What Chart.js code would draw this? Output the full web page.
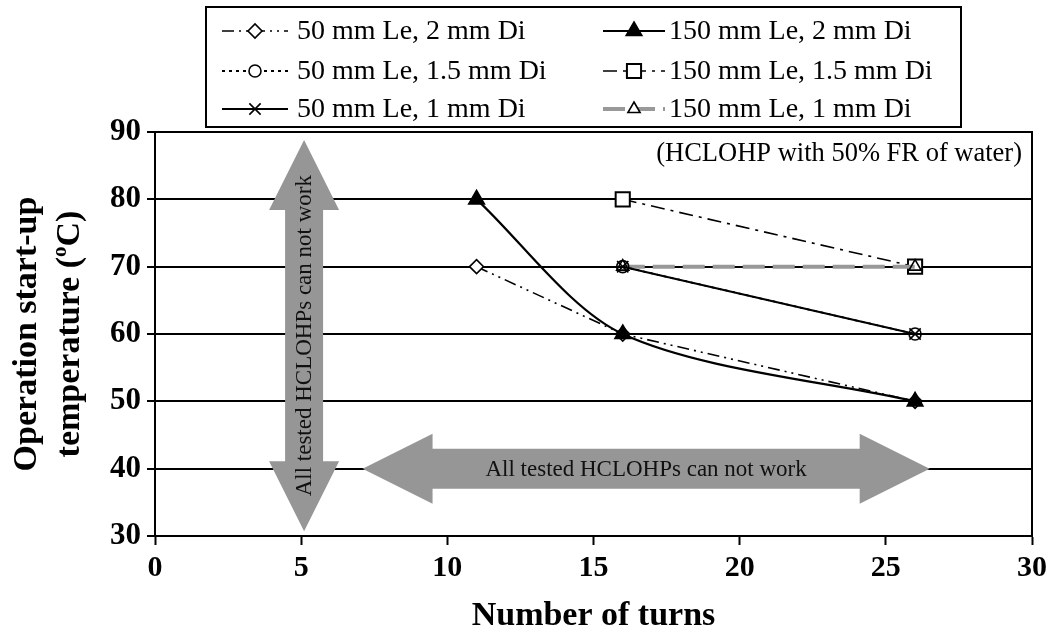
<!DOCTYPE html>
<html><head><meta charset="utf-8">
<script src="https://cdn.jsdelivr.net/npm/chart.js@4/dist/chart.umd.min.js"></script>
<style>html,body{margin:0;padding:0;background:#fff;}</style>
</head><body>
<canvas id="c" width="1053" height="638"></canvas>
<script>
// ---- data ----
const seriesLabels = ["50 mm Le, 2 mm Di","50 mm Le, 1.5 mm Di","50 mm Le, 1 mm Di","150 mm Le, 2 mm Di","150 mm Le, 1.5 mm Di","150 mm Le, 1 mm Di"];
const turns_50_2 = [11, 16, 26];   const temp_50_2 = [70, 60, 50];
const turns_50_15 = [16, 26];      const temp_50_15 = [70, 60];
const turns_50_1 = [16, 26];       const temp_50_1 = [70, 60];
const turns_150_2 = [11, 16, 26];  const temp_150_2 = [80, 60, 50];
const turns_150_15 = [16, 26];     const temp_150_15 = [80, 70];
const turns_150_1 = [16, 26];      const temp_150_1 = [70, 70];
const xTicks = [0, 5, 10, 15, 20, 25, 30];
const yTicks = [30, 40, 50, 60, 70, 80, 90];
const xTitle = "Number of turns";
const yTitle = ["Operation start-up", "temperature (", "o", "C)"];
const noteText = "(HCLOHP with 50% FR of water)";
const arrowText = "All tested HCLOHPs can not work";

const pts = (xs, ys) => xs.map((x, i) => ({x: x, y: ys[i]}));
const SERIF = "'Liberation Serif', 'Times New Roman', serif";

const datasets = [
  {label: seriesLabels[0], data: pts(turns_50_2, temp_50_2), borderColor:'#000', borderWidth:1.6, borderDash:[12,5,2,5,2,5],
   pointStyle:'rectRot', pointRadius:7, pointBackgroundColor:'#fff', pointBorderColor:'#000', pointBorderWidth:1.6, order: 2},
  {label: seriesLabels[1], data: pts(turns_50_15, temp_50_15), borderColor:'#000', borderWidth:1.8, borderDash:[3,4],
   pointStyle:'circle', pointRadius:6, pointBackgroundColor:'rgba(255,255,255,0)', pointBorderColor:'#000', pointBorderWidth:1.6, order: 1},
  {label: seriesLabels[2], data: pts(turns_50_1, temp_50_1), borderColor:'#000', borderWidth:2, borderDash:[],
   pointStyle:'crossRot', pointRadius:8, pointBackgroundColor:'#000', pointBorderColor:'#000', pointBorderWidth:1.6, order: 0},
  {label: seriesLabels[3], data: pts(turns_150_2, temp_150_2), borderColor:'#000', borderWidth:2.2, borderDash:[],
   tension: 0.3,
   pointStyle:'triangle', pointRadius:9, pointBackgroundColor:'#000', pointBorderColor:'#000', pointBorderWidth:1.6, order: -1},
  {label: seriesLabels[4], data: pts(turns_150_15, temp_150_15), borderColor:'#000', borderWidth:1.6, borderDash:[14,6,3,6],
   pointStyle:'rect', pointRadius:10, pointBackgroundColor:'#fff', pointBorderColor:'#000', pointBorderWidth:2, order: 4},
  {label: seriesLabels[5], data: pts(turns_150_1, temp_150_1), borderColor:'#999', borderWidth:4, borderDash:[22,8],
   pointStyle:'triangle', pointRadius:7, pointBackgroundColor:'rgba(255,255,255,0)', pointBorderColor:'#000', pointBorderWidth:1.6, order: 3}
];

function doubleArrow(ctx, x1, y1, x2, y2, shaftW, headW, headL) {
  const dx = x2 - x1, dy = y2 - y1, L = Math.hypot(dx, dy);
  const ux = dx / L, uy = dy / L, nx = -uy, ny = ux;
  const p = (a, b) => [x1 + ux * a + nx * b, y1 + uy * a + ny * b];
  const poly = [p(0,0), p(headL, headW/2), p(headL, shaftW/2), p(L-headL, shaftW/2), p(L-headL, headW/2),
                p(L,0), p(L-headL, -headW/2), p(L-headL, -shaftW/2), p(headL, -shaftW/2), p(headL, -headW/2)];
  ctx.beginPath();
  poly.forEach((q, i) => i ? ctx.lineTo(q[0], q[1]) : ctx.moveTo(q[0], q[1]));
  ctx.closePath();
  ctx.fillStyle = '#969696';
  ctx.fill();
}

const decor = {
  id: 'decor',
  beforeDatasetsDraw(chart) {
    const {ctx, scales: {x, y}, chartArea: a} = chart;
    ctx.save();
    // right frame
    ctx.strokeStyle = '#000'; ctx.lineWidth = 2;
    ctx.beginPath(); ctx.moveTo(a.right, a.top - 1); ctx.lineTo(a.right, a.bottom); ctx.stroke();
    // vertical arrow
    const vx = x.getPixelForValue(5.1);
    doubleArrow(ctx, vx, y.getPixelForValue(88.8), vx, y.getPixelForValue(30.7), 38, 70, 70);
    // horizontal arrow
    const hy = y.getPixelForValue(40);
    doubleArrow(ctx, x.getPixelForValue(7.1), hy, x.getPixelForValue(26.5), hy, 40, 70, 70);
    ctx.fillStyle = '#111';
    ctx.font = '23px ' + SERIF;
    ctx.textAlign = 'center'; ctx.textBaseline = 'middle';
    ctx.fillText(arrowText, (x.getPixelForValue(7.1) + x.getPixelForValue(26.5)) / 2, hy + 1);
    ctx.save();
    const vcy = (y.getPixelForValue(88.8) + y.getPixelForValue(30.7)) / 2;
    ctx.translate(vx + 1, vcy); ctx.rotate(-Math.PI / 2);
    ctx.fillText(arrowText, 0, 0);
    ctx.restore();
    // note
    ctx.font = '26.5px ' + SERIF; ctx.textAlign = 'right';
    ctx.fillStyle = '#000';
    ctx.fillText(noteText, a.right - 10, a.top + 22);
    ctx.restore();
  },
  afterDraw(chart) {
    const {ctx, chartArea: a} = chart;
    ctx.save();
    ctx.fillStyle = '#000';
    // x title
    ctx.font = 'bold 34px ' + SERIF; ctx.textAlign = 'center'; ctx.textBaseline = 'middle';
    ctx.fillText(xTitle, (a.left + a.right) / 2, 616);
    // y title
    const cy = (a.top + a.bottom) / 2;
    ctx.translate(0, cy); ctx.rotate(-Math.PI / 2);
    ctx.fillText(yTitle[0], 0, 27);
    const w1 = ctx.measureText(yTitle[1]).width;
    ctx.font = 'bold 21px ' + SERIF;
    const w2 = ctx.measureText(yTitle[2]).width;
    ctx.font = 'bold 34px ' + SERIF;
    const w3 = ctx.measureText(yTitle[3]).width;
    let sx = -(w1 + w2 + w3) / 2;
    ctx.textAlign = 'left';
    ctx.fillText(yTitle[1], sx, 70);
    ctx.font = 'bold 21px ' + SERIF;
    ctx.fillText(yTitle[2], sx + w1, 61);
    ctx.font = 'bold 34px ' + SERIF;
    ctx.fillText(yTitle[3], sx + w1 + w2, 70);
    ctx.restore();

    // legend
    ctx.save();
    ctx.strokeStyle = '#000'; ctx.lineWidth = 2;
    ctx.strokeRect(206, 7, 755, 120);
    const cols = [{x0: 222, x1: 288, tx: 297}, {x0: 603, x1: 665, tx: 669}];
    const rows = [31, 71, 109];
    chart.data.datasets.forEach((ds, i) => {
      const c = cols[Math.floor(i / 3)], ry = rows[i % 3];
      ctx.save();
      ctx.strokeStyle = ds.borderColor; ctx.lineWidth = ds.borderWidth;
      ctx.setLineDash(ds.borderDash || []);
      ctx.beginPath(); ctx.moveTo(c.x0, ry); ctx.lineTo(c.x1, ry); ctx.stroke();
      ctx.setLineDash([]);
      ctx.fillStyle = ds.pointBackgroundColor === 'rgba(255,255,255,0)' ? '#fff' : ds.pointBackgroundColor;
      ctx.strokeStyle = ds.pointBorderColor;
      ctx.lineWidth = ds.pointBorderWidth;
      Chart.helpers.drawPoint(ctx, {pointStyle: ds.pointStyle, radius: ds.pointRadius, rotation: 0, borderWidth: ds.pointBorderWidth},
        (c.x0 + c.x1) / 2, ry);
      ctx.restore();
      ctx.fillStyle = '#000'; ctx.font = '28px ' + SERIF;
      ctx.textAlign = 'left'; ctx.textBaseline = 'middle';
      ctx.fillText(ds.label, c.tx, ry + 1);
    });
    ctx.restore();
  }
};

new Chart(document.getElementById('c'), {
  type: 'line',
  data: {datasets: datasets},
  options: {
    responsive: false, animation: false, devicePixelRatio: 1,
    layout: {padding: {top: 132, right: 21, left: 0, bottom: 0}},
    plugins: {legend: {display: false}, tooltip: {enabled: false}},
    elements: {line: {tension: 0, fill: false}},
    scales: {
      x: {type: 'linear', min: 0, max: 30,
          afterFit: s => { s.height = 102; },
          afterBuildTicks: s => { s.ticks = xTicks.map(v => ({value: v})); },
          ticks: {color: '#000', font: {family: SERIF, size: 30, weight: 'bold'}, padding: 5, maxRotation: 0},
          grid: {drawOnChartArea: false, drawTicks: true, tickLength: 9, tickColor: '#000', tickWidth: 2},
          border: {display: true, color: '#000', width: 2}},
      y: {type: 'linear', min: 30, max: 90,
          afterFit: s => { s.width = 155; },
          afterBuildTicks: s => { s.ticks = yTicks.map(v => ({value: v})); },
          ticks: {color: '#000', font: {family: SERIF, size: 31, weight: 'bold'}, padding: 6},
          grid: {color: '#000', lineWidth: 2, drawTicks: true, tickLength: 8, tickColor: '#000', tickWidth: 2},
          border: {display: true, color: '#000', width: 2}}
    }
  },
  plugins: [decor]
});
</script>
</body></html>
